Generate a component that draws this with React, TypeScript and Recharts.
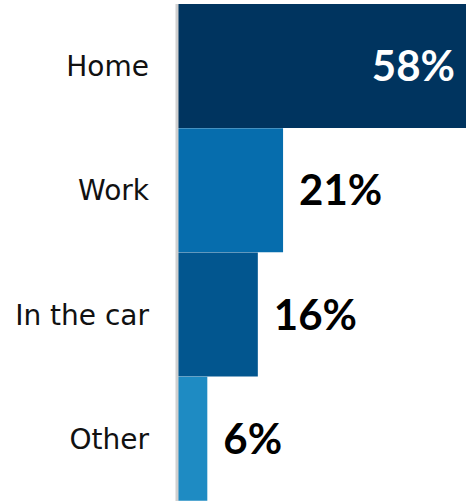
import { BarChart, Bar, XAxis, YAxis, Cell, LabelList } from "recharts";

const categories = ["Home", "Work", "In the car", "Other"];
const shares = [58, 21, 16, 6];
const colors = ["#00345F", "#066DAD", "#02568F", "#1E8BC3"];

const data = categories.map((name, i) => ({ name, value: shares[i] }));
const maxShare = Math.max(...shares);

const PctLabel = (props: any) => {
  const { x, y, width, height, value } = props;
  const cy = y + height / 2;
  const inside = value === maxShare;
  return (
    <text
      x={inside ? x + width - 15 : x + width + 16}
      y={cy}
      dy="0.36em"
      textAnchor={inside ? "end" : "start"}
      fill={inside ? "#ffffff" : "#000000"}
      fontFamily="Lato, sans-serif"
      fontWeight={700}
      fontSize={42}
    >
      {`${value}%`}
    </text>
  );
};

export default function App() {
  return (
    <div style={{ position: "absolute", left: 0, top: 0, width: 466, height: 501, overflow: "hidden", background: "#fff" }}>
      <BarChart
        width={470}
        height={501}
        data={data}
        layout="vertical"
        barCategoryGap={0}
        margin={{ top: 4, right: 0, left: 0, bottom: 0 }}
      >
        <XAxis type="number" domain={[0, 58]} hide />
        <YAxis
          type="category"
          dataKey="name"
          width={177}
          tickLine={false}
          tickSize={0}
          tickMargin={28}
          axisLine={{ stroke: "#d0d0d0", strokeWidth: 3 }}
          tick={{ fill: "#111111", fontSize: 28, fontFamily: "'DejaVu Sans', sans-serif" }}
        />
        <Bar dataKey="value" isAnimationActive={false}>
          {data.map((d, i) => (
            <Cell key={d.name} fill={colors[i]} />
          ))}
          <LabelList dataKey="value" content={PctLabel} />
        </Bar>
      </BarChart>
    </div>
  );
}
